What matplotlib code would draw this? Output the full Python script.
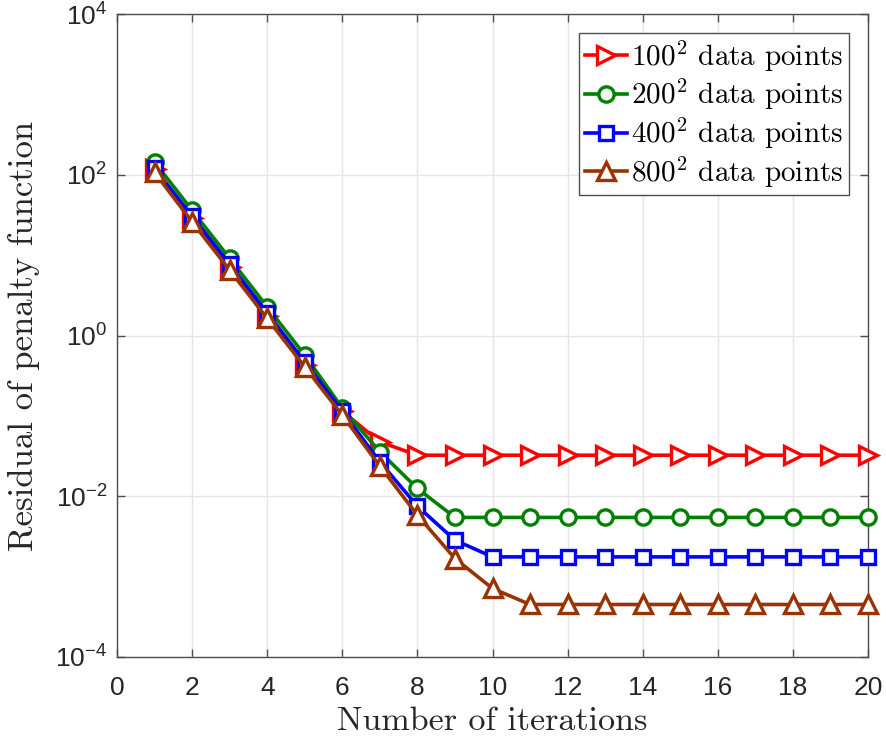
#!/usr/bin/env python3

import matplotlib

matplotlib.use("Agg")
import matplotlib.pyplot as plt
from matplotlib.font_manager import FontProperties
from matplotlib.ticker import FixedLocator, FixedFormatter, NullLocator

plt.rcParams["mathtext.fontset"] = "custom"
plt.rcParams["mathtext.rm"] = "Liberation Sans"
plt.rcParams["mathtext.it"] = "Liberation Sans:italic"
plt.rcParams["mathtext.bf"] = "Liberation Sans:bold"

# data
iterations = list(range(1, 21))

res_100 = [117, 28.8, 7.1, 1.74, 0.427, 0.114, 0.0475] + [0.0324] * 13
res_200 = [144, 36, 9.1, 2.27, 0.569, 0.125, 0.0357, 0.0125] + [0.00545] * 12
res_400 = [120, 30.5, 7.7, 1.91, 0.47, 0.114, 0.0268, 0.00753, 0.00284] + [0.00176] * 11
res_800 = [107, 25.9, 6.5, 1.63, 0.407, 0.102, 0.0237, 0.00582, 0.00168, 7.13e-4] + [4.5e-4] * 10

series_labels = [
    r"$100^2$ data points",
    r"$200^2$ data points",
    r"$400^2$ data points",
    r"$800^2$ data points",
]

xticks = list(range(0, 21, 2))
yticks = [1e-4, 1e-2, 1e0, 1e2, 1e4]
ytick_labels = [r"$10^{-4}$", r"$10^{-2}$", r"$10^{0}$", r"$10^{2}$", r"$10^{4}$"]

BROWN = (0.6, 0.2, 0.0)
styles = [
    dict(color="red", marker=">", markersize=13),
    dict(color=(0.0, 0.5, 0.0), marker="o", markersize=11),
    dict(color="blue", marker="s", markersize=10.5),
    dict(color=BROWN, marker="^", markersize=13),
]

fig = plt.figure(figsize=(8.86, 7.44), dpi=100)
ax = fig.add_axes([117 / 886, 1 - 657 / 744, (868 - 117) / 886, (657 - 14) / 744])

for values, label, st in zip([res_100, res_200, res_400, res_800], series_labels, styles):
    ax.plot(
        iterations, values, label=label, color=st["color"], marker=st["marker"],
        markersize=st["markersize"], markerfacecolor="white",
        markeredgecolor=st["color"], markeredgewidth=2.4, linewidth=2.6,
        clip_on=False, zorder=3,
    )

ax.set_yscale("log")
ax.set_xlim(0, 20)
ax.set_ylim(1e-4, 1e4)

ax.xaxis.set_major_locator(FixedLocator(xticks))
ax.yaxis.set_major_locator(FixedLocator(yticks))
ax.yaxis.set_major_formatter(FixedFormatter(ytick_labels))
ax.yaxis.set_minor_locator(NullLocator())

ax.tick_params(axis="both", which="major", direction="in", length=6, width=1,
               color="0.3", labelsize=19, top=True, right=True)
ax.tick_params(axis="x", pad=14)
ax.tick_params(axis="y", pad=7)
for lbl in ax.get_xticklabels() + ax.get_yticklabels():
    lbl.set_fontfamily("Liberation Sans")
    lbl.set_color("0.15")

for spine in ax.spines.values():
    spine.set_color("0.3")
    spine.set_linewidth(1.0)

ax.grid(True, color="0.9", linewidth=1.0)
ax.set_axisbelow(True)

ax.set_xlabel("Number of iterations", fontfamily="cmr10", fontsize=24.5, labelpad=5, color="0.15")
ax.set_ylabel("Residual of penalty function", fontfamily="cmr10", fontsize=25, labelpad=11, color="0.15")

legend_font = FontProperties(family="cmr10", size=21, math_fontfamily="cm")
leg = ax.legend(
    loc="upper right", bbox_to_anchor=(0.975, 0.971), prop=legend_font,
    frameon=True, fancybox=False, framealpha=1, edgecolor="0.3",
    handlelength=1.45, handletextpad=0.15, borderpad=0.2, labelspacing=0.12,
    borderaxespad=0,
)
leg.get_frame().set_linewidth(1.0)

fig.savefig("out.png", dpi=100)
